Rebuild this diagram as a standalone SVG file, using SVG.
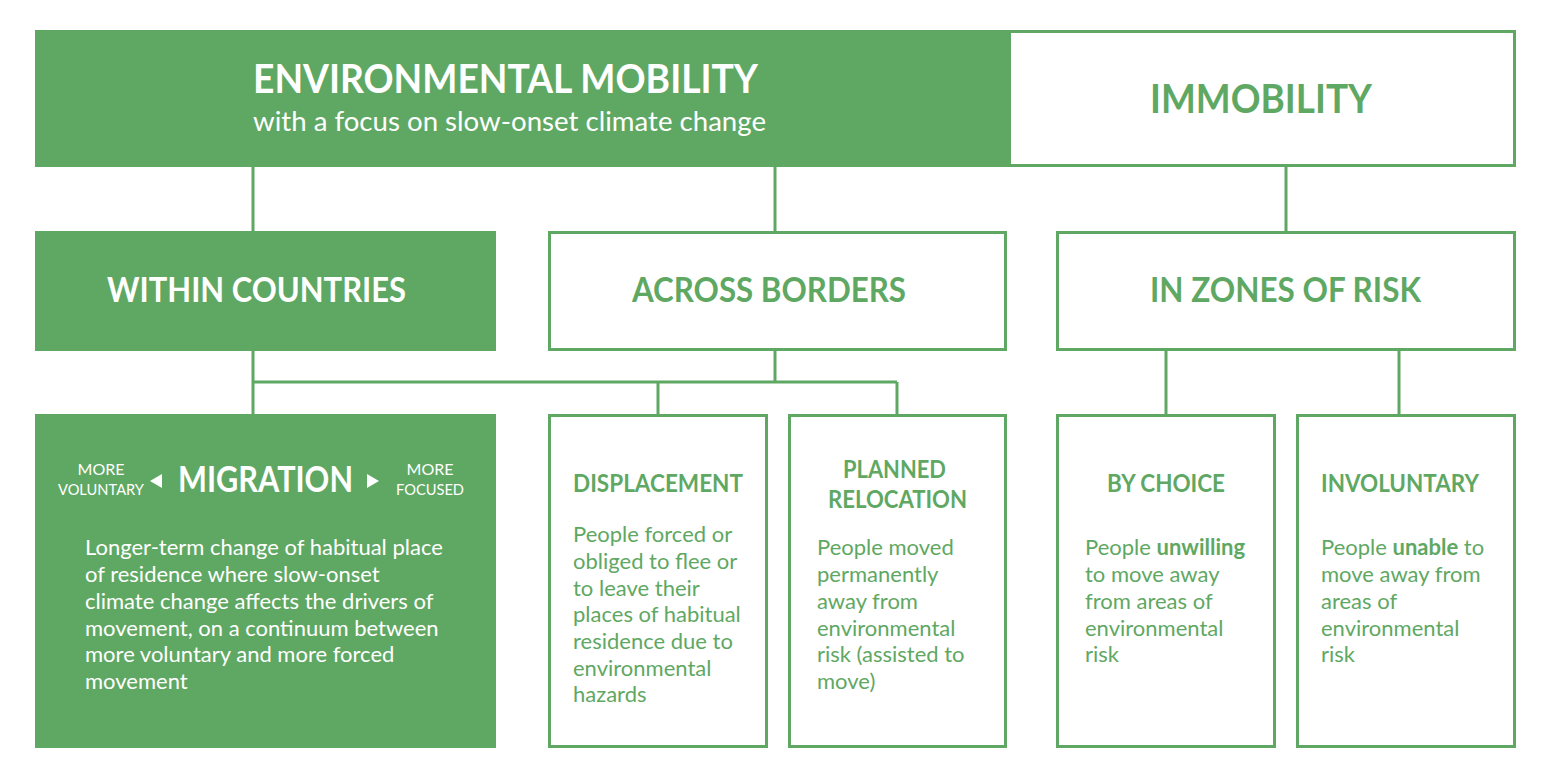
<svg xmlns="http://www.w3.org/2000/svg" width="1550" height="780" viewBox="0 0 1550 780">
<style>
.g{fill:#5fa863}
.w{fill:#ffffff;stroke:#5fa863;stroke-width:3}
.c{stroke:#5fa863;stroke-width:3;fill:none}
text{font-family:Lato,"Open Sans",sans-serif}
.tw{fill:#ffffff}
.tg{fill:#5fa863}
.h1{font-weight:700;font-size:40px}
.h2{font-weight:700;font-size:34px}
.h3{font-weight:700;font-size:24px}
.b{font-size:22px}
.sm{font-size:16px}
</style>
<rect width="1550" height="780" fill="#ffffff"/>
<g id="connectors">
<path class="c" d="M253 167V231M775 167V231M1286 167V231M253 350V414M775 350V382M253 382H897M658 382V414M897 382V414M1166 350V414M1399 350V414"/>
</g>
<g id="environmental-mobility">
<rect class="g" x="35" y="30" width="974" height="137"/>
<text class="tw h1" x="253" y="93" textLength="505" lengthAdjust="spacingAndGlyphs">ENVIRONMENTAL MOBILITY</text>
<text class="tw" x="253" y="131" font-size="27" textLength="513" lengthAdjust="spacingAndGlyphs">with a focus on slow-onset climate change</text>
</g>
<g id="immobility">
<rect class="w" x="1009.5" y="31.5" width="505" height="134"/>
<text class="tg h1" x="1150" y="113" textLength="222" lengthAdjust="spacingAndGlyphs">IMMOBILITY</text>
</g>
<g id="within-countries">
<rect class="g" x="35" y="231" width="461" height="120"/>
<text class="tw h2" x="107" y="302" textLength="299" lengthAdjust="spacingAndGlyphs">WITHIN COUNTRIES</text>
</g>
<g id="across-borders">
<rect class="w" x="549.5" y="232.5" width="456" height="117"/>
<text class="tg h2" x="632" y="302" textLength="274" lengthAdjust="spacingAndGlyphs">ACROSS BORDERS</text>
</g>
<g id="zones-of-risk">
<rect class="w" x="1057.5" y="232.5" width="457" height="117"/>
<text class="tg h2" x="1150" y="302" textLength="271" lengthAdjust="spacingAndGlyphs">IN ZONES OF RISK</text>
</g>
<g id="migration">
<rect class="g" x="35" y="414" width="461" height="334"/>
<text class="tw sm" text-anchor="middle"><tspan x="101" y="475">MORE</tspan></text>
<text class="tw sm" x="58" y="495" textLength="86" lengthAdjust="spacingAndGlyphs">VOLUNTARY</text>
<path class="tw" d="M162 474V488L150 481Z"/>
<text class="tw" x="178" y="492" font-size="36" font-weight="700" textLength="175" lengthAdjust="spacingAndGlyphs">MIGRATION</text>
<path class="tw" d="M367 474V488L379 481Z"/>
<text class="tw sm" text-anchor="middle"><tspan x="430" y="475">MORE</tspan></text>
<text class="tw sm" x="396" y="495" textLength="68" lengthAdjust="spacingAndGlyphs">FOCUSED</text>
<text class="tw b"><tspan x="85" y="555">Longer-term change of habitual place</tspan><tspan x="85" y="582">of residence where slow-onset</tspan><tspan x="85" y="609">climate change affects the drivers of</tspan><tspan x="85" y="636">movement, on a continuum between</tspan><tspan x="85" y="662">more voluntary and more forced</tspan><tspan x="85" y="689">movement</tspan></text>
</g>
<g id="displacement">
<rect class="w" x="549.5" y="415.5" width="217" height="331"/>
<text class="tg h3" x="573" y="492" textLength="170" lengthAdjust="spacingAndGlyphs">DISPLACEMENT</text>
<text class="tg b"><tspan x="573" y="542">People forced or</tspan><tspan x="573" y="569">obliged to flee or</tspan><tspan x="573" y="596">to leave their</tspan><tspan x="573" y="622">places of habitual</tspan><tspan x="573" y="649">residence due to</tspan><tspan x="573" y="676">environmental</tspan><tspan x="573" y="702">hazards</tspan></text>
</g>
<g id="planned-relocation">
<rect class="w" x="789.5" y="415.5" width="216" height="331"/>
<text class="tg h3" x="843" y="478" textLength="103" lengthAdjust="spacingAndGlyphs">PLANNED</text>
<text class="tg h3" x="828" y="508" textLength="139" lengthAdjust="spacingAndGlyphs">RELOCATION</text>
<text class="tg b"><tspan x="817" y="555">People moved</tspan><tspan x="817" y="582">permanently</tspan><tspan x="817" y="609">away from</tspan><tspan x="817" y="636">environmental</tspan><tspan x="817" y="662">risk (assisted to</tspan><tspan x="817" y="689">move)</tspan></text>
</g>
<g id="by-choice">
<rect class="w" x="1057.5" y="415.5" width="217" height="331"/>
<text class="tg h3" x="1107" y="492" textLength="118" lengthAdjust="spacingAndGlyphs">BY CHOICE</text>
<text class="tg b"><tspan x="1085" y="555">People <tspan font-weight="700">unwilling</tspan></tspan><tspan x="1085" y="582">to move away</tspan><tspan x="1085" y="609">from areas of</tspan><tspan x="1085" y="636">environmental</tspan><tspan x="1085" y="662">risk</tspan></text>
</g>
<g id="involuntary">
<rect class="w" x="1297.5" y="415.5" width="217" height="331"/>
<text class="tg h3" x="1321" y="492" textLength="158" lengthAdjust="spacingAndGlyphs">INVOLUNTARY</text>
<text class="tg b"><tspan x="1321" y="555">People <tspan font-weight="700">unable</tspan> to</tspan><tspan x="1321" y="582">move away from</tspan><tspan x="1321" y="609">areas of</tspan><tspan x="1321" y="636">environmental</tspan><tspan x="1321" y="662">risk</tspan></text>
</g>
</svg>
